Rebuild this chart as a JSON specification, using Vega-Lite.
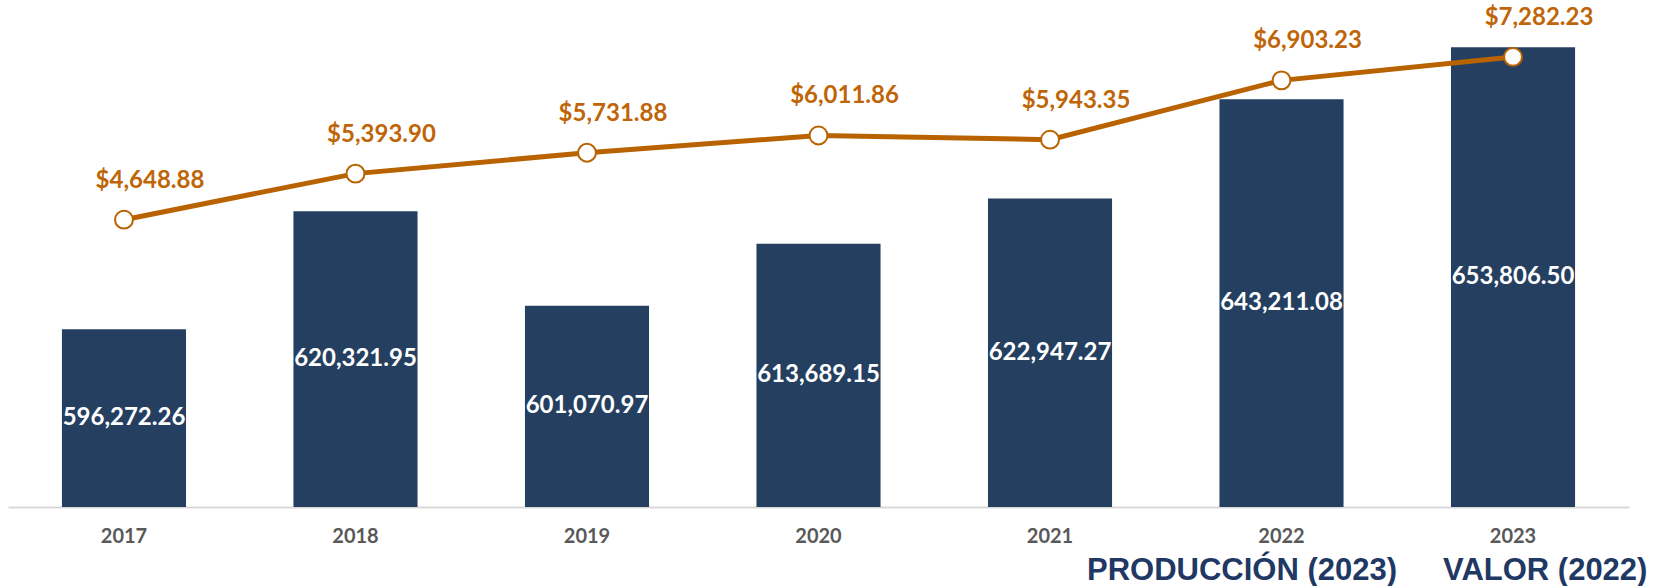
{
  "$schema": "https://vega.github.io/schema/vega-lite/v6.json",
  "width": 1621,
  "height": 500,
  "autosize": {"type": "none"},
  "padding": {"left": 8, "top": 7, "right": 24, "bottom": 79},
  "background": "white",
  "config": {"view": {"stroke": null}},
  "data": {"values": [
    {"anio": "2017", "produccion": 596272.26, "valor": 4648.88},
    {"anio": "2018", "produccion": 620321.95, "valor": 5393.90},
    {"anio": "2019", "produccion": 601070.97, "valor": 5731.88},
    {"anio": "2020", "produccion": 613689.15, "valor": 6011.86},
    {"anio": "2021", "produccion": 622947.27, "valor": 5943.35},
    {"anio": "2022", "produccion": 643211.08, "valor": 6903.23},
    {"anio": "2023", "produccion": 653806.50, "valor": 7282.23}
  ]},
  "encoding": {
    "x": {
      "field": "anio", "type": "ordinal",
      "scale": {"paddingInner": 0.464, "paddingOuter": 0.233},
      "axis": {
        "title": null, "labelAngle": 0, "labelFont": "Lato", "labelFontWeight": "bold",
        "labelFontSize": 20, "labelColor": "#595959", "ticks": false, "tickSize": 0,
        "labelPadding": 29, "labelBaseline": "middle", "domainColor": "#D9D9D9",
        "domainWidth": 2, "grid": false
      }
    }
  },
  "layer": [
    {
      "mark": {"type": "bar"},
      "encoding": {
        "y": {"field": "produccion", "type": "quantitative", "scale": {"domain": [560000, 662010], "zero": false, "nice": false}, "axis": null},
        "y2": {"datum": 560000},
        "color": {
          "datum": "PRODUCCIÓN (2023)",
          "scale": {"domain": ["PRODUCCIÓN (2023)", "VALOR (2022)"], "range": ["#243F60", "#B96300"]},
          "legend": {
            "title": null, "orient": "none", "legendX": 1048, "legendY": 548,
            "direction": "horizontal", "labelFont": "Liberation Sans", "labelFontWeight": "bold",
            "labelFontSize": 31, "labelColor": "#1F3864", "labelLimit": 600,
            "symbolSize": 0, "symbolStrokeWidth": 0, "symbolOpacity": 0, "labelOffset": 0,
            "columnPadding": 14, "padding": 0, "symbolType": "circle"
          }
        }
      }
    },
    {
      "transform": [{"calculate": "(datum.produccion + 560000) / 2", "as": "mid"}],
      "mark": {"type": "text", "font": "Lato", "fontWeight": "bold", "fontSize": 24, "color": "white", "baseline": "middle", "align": "center"},
      "encoding": {
        "y": {"field": "mid", "type": "quantitative", "scale": {"domain": [560000, 662010], "zero": false, "nice": false}, "axis": null},
        "text": {"field": "produccion", "type": "quantitative", "format": ",.2f"}
      }
    },
    {
      "mark": {"type": "line", "strokeWidth": 5},
      "encoding": {
        "y": {"field": "valor", "type": "quantitative", "scale": {"domain": [0, 8090], "nice": false}, "axis": null},
        "color": {"datum": "VALOR (2022)"}
      }
    },
    {
      "mark": {"type": "point", "filled": true, "fill": "white", "stroke": "#B96300", "strokeWidth": 2, "size": 320, "opacity": 1},
      "encoding": {
        "y": {"field": "valor", "type": "quantitative", "scale": {"domain": [0, 8090], "nice": false}, "axis": null}
      }
    },
    {
      "mark": {"type": "text", "font": "Lato", "fontWeight": "bold", "fontSize": 24, "color": "#BF6508", "baseline": "middle", "align": "center", "dx": 26, "dy": -39},
      "encoding": {
        "y": {"field": "valor", "type": "quantitative", "scale": {"domain": [0, 8090], "nice": false}, "axis": null},
        "text": {"field": "valor", "type": "quantitative", "format": "$,.2f"}
      }
    }
  ],
  "resolve": {"scale": {"y": "independent"}}
}
